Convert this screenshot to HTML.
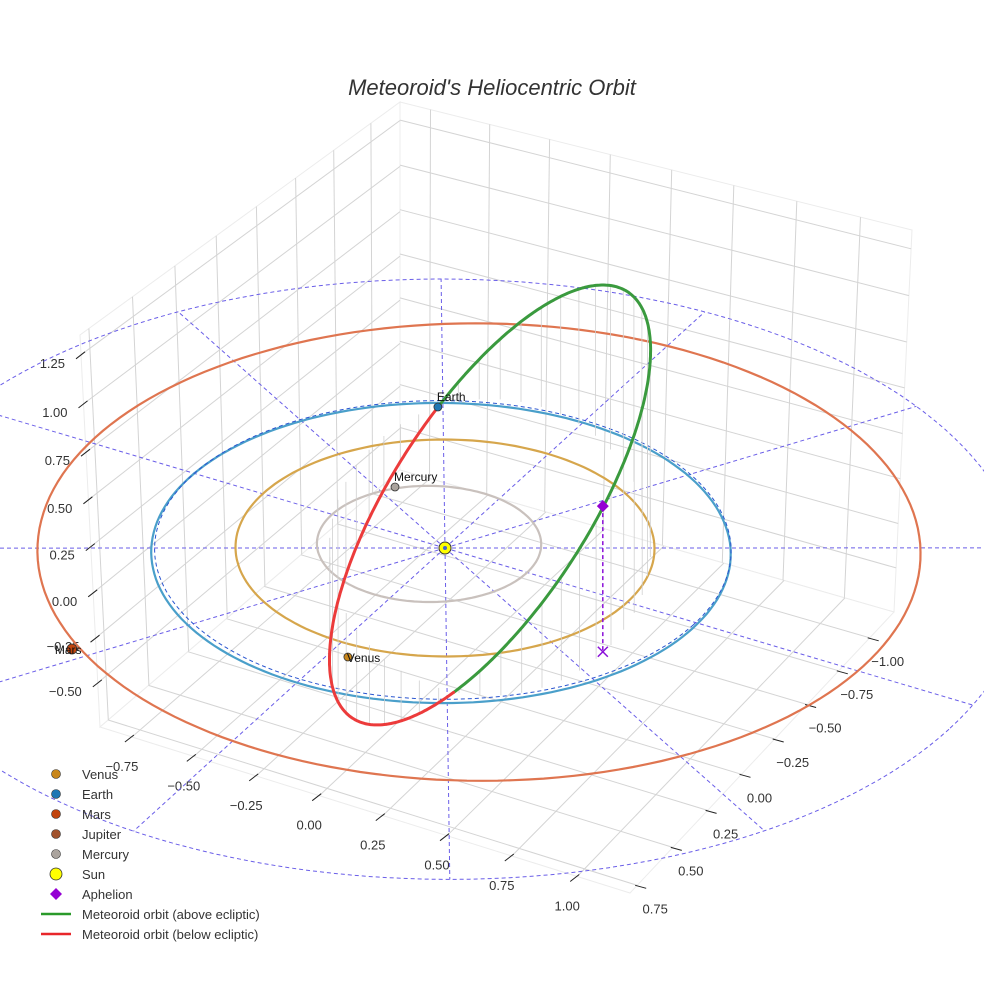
<!DOCTYPE html>
<html><head><meta charset="utf-8"><style>
html,body{margin:0;padding:0;background:#fff;}
svg{display:block;font-family:"Liberation Sans",sans-serif;}
</style></head><body>
<svg id="chart" width="984" height="984" viewBox="0 0 984 984" xmlns="http://www.w3.org/2000/svg">
<text x="492" y="95" text-anchor="middle" font-size="22" font-style="italic" fill="#333">Meteoroid's Heliocentric Orbit</text>
<g id="box"></g><g id="plot"></g><g id="legend"></g>
</svg>
<script>
// ---- data ----
const xTicks = [-0.75,-0.5,-0.25,0,0.25,0.5,0.75,1.0];
const yTicks = [-1.0,-0.75,-0.5,-0.25,0,0.25,0.5,0.75];
const zTicks = [-0.5,-0.25,0,0.25,0.5,0.75,1.0,1.25];
const planetNames = ["Venus","Earth","Mars","Mercury"];
const planetX = [0.068,-0.485,-0.783,-0.35];
const planetY = [0.799,-0.805,1.229,-0.267];
const planetColors = ["#c8861a","#1f77b4","#c1440e","#aaa39d"];
const orbitNames = ["Mercury","Venus","Earth","Mars"];
const orbitRadius = [0.387,0.723,1.0,1.524];
const orbitCenterX = [-0.061,0,0.0045,0.115];
const orbitCenterY = [0.004,0,0.036,-0.035];
const orbitColors = ["#c9c1bd","#d6a64c","#4a9fca","#df7550"];
const meteorCenter = [0.1326,-0.0811,0.2176];
const meteorU = [-0.617,-0.724,-0.2176];
const meteorV = [0.297,-0.539,0.765];
const aphelion = [0.813,0.329,0.747];

// ---- projection ----
const NS="http://www.w3.org/2000/svg";
function mk(tag, attrs, parent){const e=document.createElementNS(NS,tag);for(const k in attrs)e.setAttribute(k,attrs[k]);parent.appendChild(e);return e;}
function P(X,Y,Z){return [445+252*X-143*Y, 548+75*X+130*Y-195*Z];}
function invP(sx,sy,Z){const dx=sx-445, dy=sy-548+195*Z, det=252*130+143*75;return [(dx*130+143*dy)/det,(252*dy-75*dx)/det];}
function homog(p0,p1,p2,p3){
  const dx1=p1[0]-p2[0],dx2=p3[0]-p2[0],dx3=p0[0]-p1[0]+p2[0]-p3[0];
  const dy1=p1[1]-p2[1],dy2=p3[1]-p2[1],dy3=p0[1]-p1[1]+p2[1]-p3[1];
  const den=dx1*dy2-dx2*dy1;
  const g=(dx3*dy2-dx2*dy3)/den,h=(dx1*dy3-dx3*dy1)/den;
  const a=p1[0]-p0[0]+g*p1[0],b=p3[0]-p0[0]+h*p3[0],c=p0[0];
  const d=p1[1]-p0[1]+g*p1[1],e=p3[1]-p0[1]+h*p3[1],f=p0[1];
  return (u,v)=>{const w=g*u+h*v+1;return [(a*u+b*v+c)/w,(d*u+e*v+f)/w];};
}
const xr=[-0.88,1.2], yr=[-1.2,0.8], zr=[-0.75,1.35];
const K=[400,470],R=[894,612],F=[630,893],L=[100,727],TK=[400,102],TL=[80,335],TR=[912,230];
const floorH=homog(K,R,F,L), leftH=homog(K,L,TL,TK), rightH=homog(K,R,TR,TK);
const nx=x=>(x-xr[0])/(xr[1]-xr[0]), ny=y=>(y-yr[0])/(yr[1]-yr[0]), nz=z=>(z-zr[0])/(zr[1]-zr[0]);
const box=document.getElementById('box'), plot=document.getElementById('plot'), leg=document.getElementById('legend');
function line(a,b,st,w,par,extra){const l=mk('line',Object.assign({x1:a[0].toFixed(1),y1:a[1].toFixed(1),x2:b[0].toFixed(1),y2:b[1].toFixed(1),stroke:st,'stroke-width':w},extra||{}),par);return l;}

// walls & floor outlines
for(const [H,name] of [[leftH,'left-wall'],[rightH,'right-wall'],[floorH,'floor']]){
  const pts=[H(0,0),H(1,0),H(1,1),H(0,1)].map(p=>p.join(',')).join(' ');
  const el=mk('polygon',{points:pts,fill:'#fff',stroke:'#ececec','stroke-width':1},box);
  
  
}
const gridC='#d4d4d4';
for(const y of yTicks){
  const el=line(leftH(ny(y),0),leftH(ny(y),1),gridC,1,box);
  
  
  const f=line(floorH(0,ny(y)),floorH(1,ny(y)),gridC,1,box);
  
  
}
for(const x of xTicks){
  const el=line(rightH(nx(x),0),rightH(nx(x),1),gridC,1,box);
  
  
  const f=line(floorH(nx(x),0),floorH(nx(x),1),gridC,1,box);
  
  
}
for(const z of zTicks){
  const a=line(leftH(0,nz(z)),leftH(1,nz(z)),gridC,1,box);
  
  
  const b=line(rightH(0,nz(z)),rightH(1,nz(z)),gridC,1,box);
  
  
}
// ticks & labels
const fmt=v=>(v<0?'\u2212':'')+Math.abs(v).toFixed(2);
for(const x of xTicks){
  const p=floorH(nx(x),1);
  const t=line([p[0]-7,p[1]+5],[p[0]+2,p[1]-2],'#222',1,box);
  
  
  const tx=mk('text',{x:(p[0]-10).toFixed(1),y:(p[1]+34).toFixed(1),'text-anchor':'middle','font-size':13,fill:'#333'},box);
  tx.textContent=fmt(x);
  
  
}
for(const y of yTicks){
  const p=floorH(1,ny(y));
  const t=line([p[0]-2,p[1]],[p[0]+9,p[1]+3],'#222',1,box);
  
  
  const tx=mk('text',{x:(p[0]+18).toFixed(1),y:(p[1]+28).toFixed(1),'text-anchor':'middle','font-size':13,fill:'#333'},box);
  tx.textContent=fmt(y);
  
  
}
for(const z of zTicks){
  const p=leftH(1,nz(z));
  const t=line([p[0]-5,p[1]+4],[p[0]+4,p[1]-3],'#222',1,box);
  
  
  const tx=mk('text',{x:(p[0]-16).toFixed(1),y:(p[1]+13).toFixed(1),'text-anchor':'end','font-size':13,fill:'#333'},box);
  tx.textContent=fmt(z);
  
  
}

// reference dashed grid
function circlePath(cx,cy,r,z){let d='';for(let i=0;i<=180;i++){const a=i/180*2*Math.PI;const p=P(cx+r*Math.cos(a),cy+r*Math.sin(a),z);d+=(i?'L':'M')+p[0].toFixed(1)+','+p[1].toFixed(1);}return d;}
const dashC='#6a5ee8';
const BIGR=2.0, BIGZ=-0.16;
const big=mk('path',{d:circlePath(0,0,BIGR,BIGZ),fill:'none',stroke:dashC,'stroke-width':1,'stroke-dasharray':'4,3'},plot);


const sun=P(0,0,0);
for(let k=0;k<12;k++){
  const a=(-30+30*k)*Math.PI/180;
  const q=P(Math.cos(a),Math.sin(a),0);
  const d=[q[0]-sun[0],q[1]-sun[1]];
  let lo=0,hi=10;
  for(let it=0;it<50;it++){const m=(lo+hi)/2;const e=invP(sun[0]+m*d[0],sun[1]+m*d[1],BIGZ);if(Math.hypot(e[0],e[1])<BIGR)lo=m;else hi=m;}
  const e=[sun[0]+lo*d[0],sun[1]+lo*d[1]];
  const l=line(sun,e,dashC,1,plot,{'stroke-dasharray':'4,3'});
  
  
}
// planet orbits
for(let i=0;i<orbitNames.length;i++){
  const o=mk('path',{d:circlePath(orbitCenterX[i],orbitCenterY[i],orbitRadius[i],0),fill:'none',stroke:orbitColors[i],'stroke-width':2.2},plot);
  
  
}
const ref1=mk('path',{d:circlePath(0,0.015,0.995,0),fill:'none',stroke:'#2a55d0','stroke-width':1,'stroke-dasharray':'4,3'},plot);



// meteoroid orbit
function orb(t){const c=Math.cos(t),s=Math.sin(t);return [0,1,2].map(j=>meteorCenter[j]+meteorU[j]*c+meteorV[j]*s);}
for(let i=0;i<48;i++){
  const q=orb(i/48*2*Math.PI);
  const dl=line(P(q[0],q[1],q[2]),P(q[0],q[1],0),'#d0d0d0',0.8,plot);
  
  
}
const N=360;
let segs={g:'',r:''}, prev=null;
for(let i=0;i<=N;i++){
  const q=orb(i/N*2*Math.PI), p=P(q[0],q[1],q[2]);
  if(prev){const key=((q[2]+prev.z)/2>=0)?'g':'r';segs[key]+='M'+prev.p[0].toFixed(1)+','+prev.p[1].toFixed(1)+'L'+p[0].toFixed(1)+','+p[1].toFixed(1);}
  prev={p:p,z:q[2]};
}
const gp=mk('path',{d:segs.g,fill:'none',stroke:'#3a9a3e','stroke-width':3,'stroke-linecap':'round'},plot);


const rp=mk('path',{d:segs.r,fill:'none',stroke:'#ec3b3b','stroke-width':3,'stroke-linecap':'round'},plot);



// aphelion
const ap=P(aphelion[0],aphelion[1],aphelion[2]), ap0=P(aphelion[0],aphelion[1],0);
const apl=line(ap,ap0,'#8a10d8',1.5,plot,{'stroke-dasharray':'4,3'});


const apx=mk('path',{d:`M${ap0[0]-5},${ap0[1]-5}L${ap0[0]+5},${ap0[1]+5}M${ap0[0]-5},${ap0[1]+5}L${ap0[0]+5},${ap0[1]-5}`,stroke:'#8a10d8','stroke-width':1.5},plot);


const apd=mk('polygon',{points:`${ap[0]},${ap[1]-6} ${ap[0]+6},${ap[1]} ${ap[0]},${ap[1]+6} ${ap[0]-6},${ap[1]}`,fill:'#9400d3'},plot);



// sun
const sc=mk('circle',{cx:sun[0],cy:sun[1],r:6,fill:'#ffff00',stroke:'#333','stroke-width':1},plot);


const sd=mk('circle',{cx:sun[0],cy:sun[1],r:2,fill:'#4466cc'},plot);



// planets
for(let i=0;i<planetNames.length;i++){
  const p=P(planetX[i],planetY[i],0);
  const c=mk('circle',{cx:p[0].toFixed(1),cy:p[1].toFixed(1),r:planetNames[i]==='Mars'?5:4,fill:planetColors[i],stroke:'#333','stroke-width':0.8},plot);
  
  
  const dx=planetNames[i]==='Mars'?-17:-1;
  const t=mk('text',{x:(p[0]+dx).toFixed(1),y:(p[1]-6+(planetNames[i]==='Venus'||planetNames[i]==='Mars'?11:0)).toFixed(1),'font-size':12,fill:'#111'},plot);
  t.textContent=planetNames[i];
  
  
}

// legend
const legNames=["Venus","Earth","Mars","Jupiter","Mercury","Sun","Aphelion","Meteoroid orbit (above ecliptic)","Meteoroid orbit (below ecliptic)"];
const legKinds=["dot","dot","dot","dot","dot","sun","diamond","line","line"];
const legColors=["#c8861a","#1f77b4","#c1440e","#a0522d","#aaa39d","#ffff00","#9400d3","#2a9a2a","#e8262a"];
for(let i=0;i<legNames.length;i++){
  const y=774+20*i;
  let m;
  if(legKinds[i]==='dot') m=mk('circle',{cx:56,cy:y,r:4.5,fill:legColors[i],stroke:'#333','stroke-width':0.6},leg);
  else if(legKinds[i]==='sun') m=mk('circle',{cx:56,cy:y,r:6,fill:legColors[i],stroke:'#333','stroke-width':0.8},leg);
  else if(legKinds[i]==='diamond') m=mk('polygon',{points:`56,${y-6} 62,${y} 56,${y+6} 50,${y}`,fill:legColors[i]},leg);
  else m=mk('line',{x1:41,y1:y,x2:71,y2:y,stroke:legColors[i],'stroke-width':2.5},leg);
  
  
  const t=mk('text',{x:82,y:y+5,'font-size':13,fill:'#333'},leg);
  t.textContent=legNames[i];
  
  
}
</script>
</body></html>
